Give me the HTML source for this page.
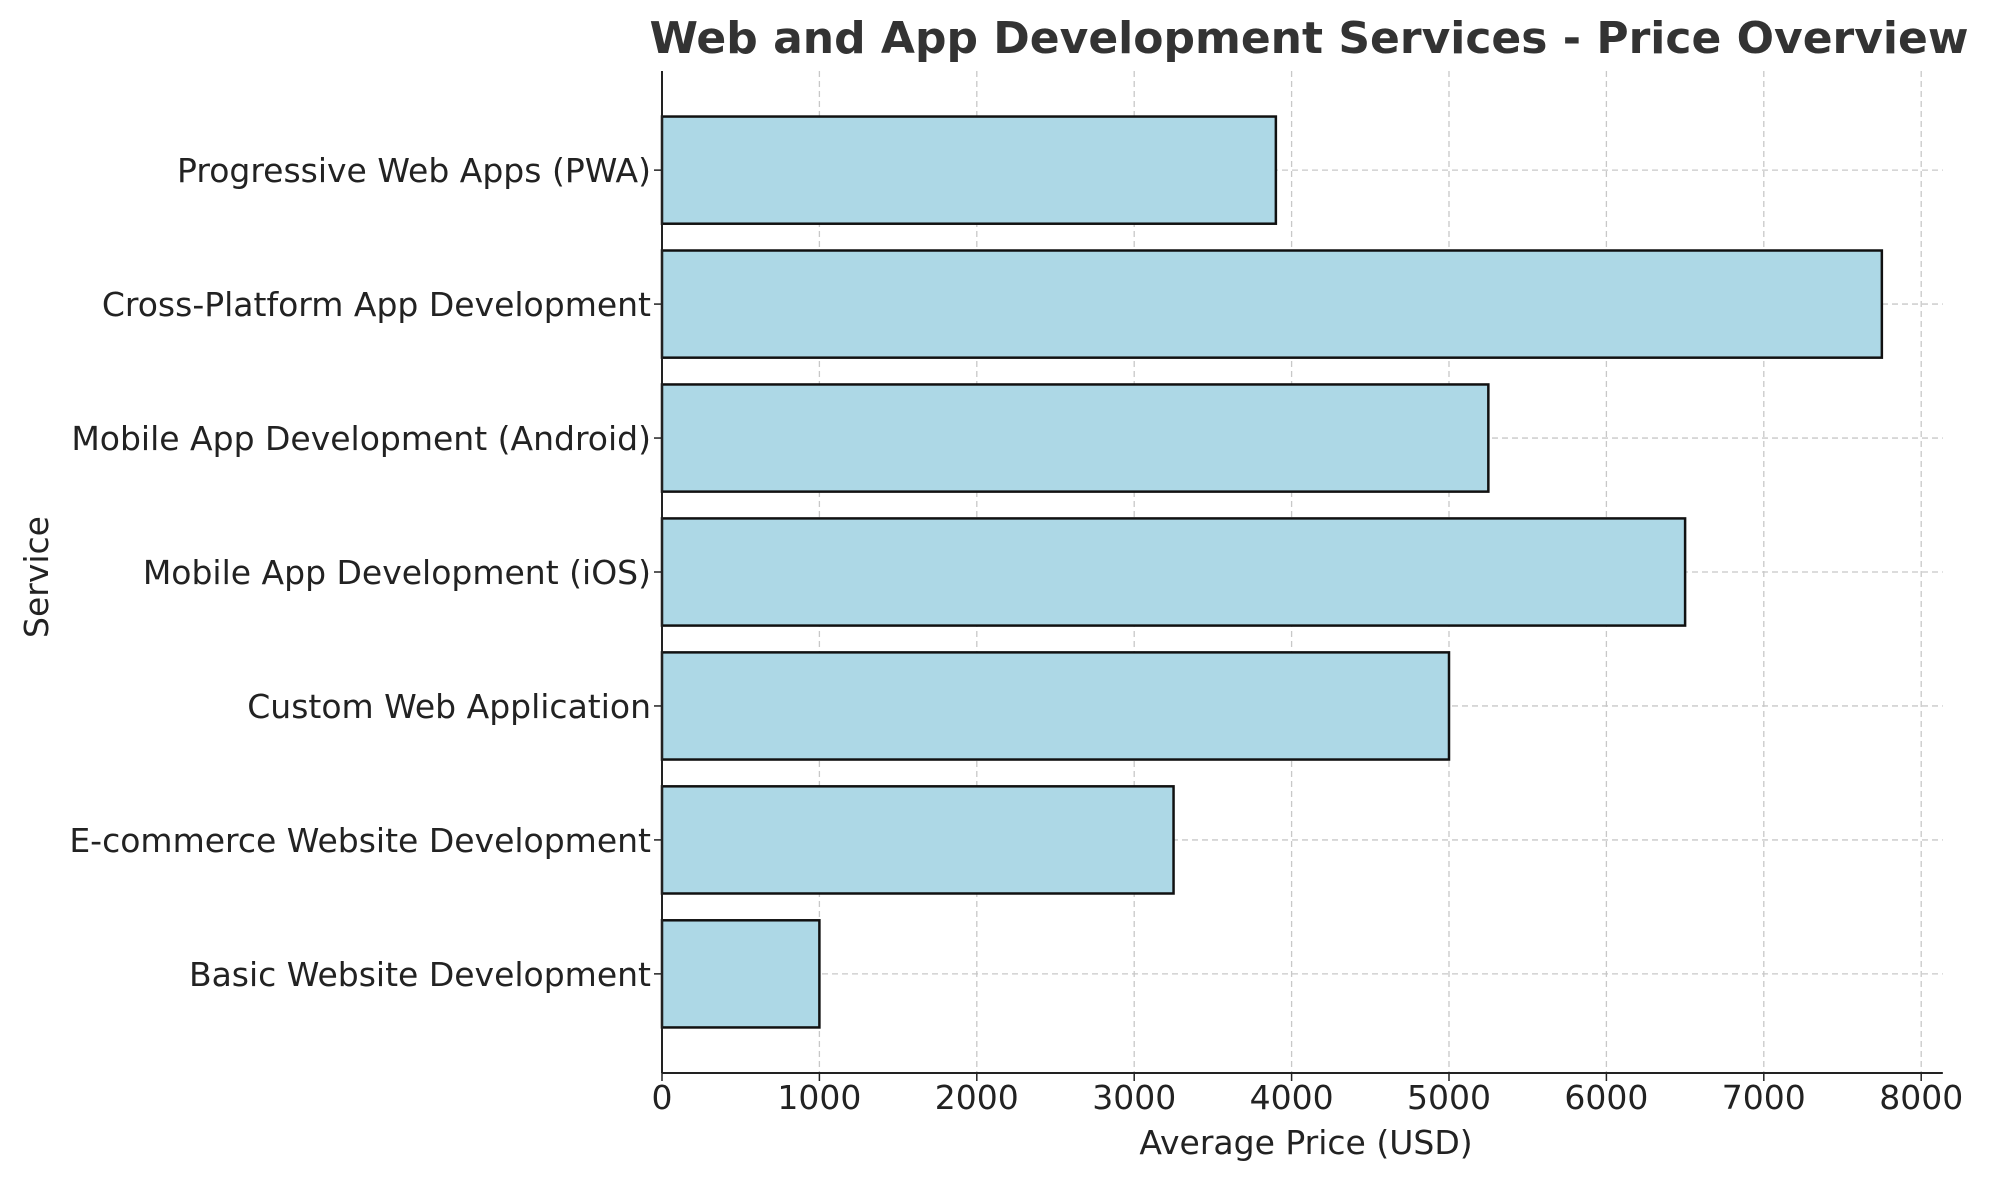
<!DOCTYPE html>
<html><head><meta charset="utf-8"><style>
body{margin:0;background:#fff}
svg{display:block;font-family:"DejaVu Sans","Liberation Sans",sans-serif}
</style></head><body>
<svg id="chart" width="1990" height="1180" viewBox="0 0 1990 1180">
<g id="grid"></g>
<g id="bars"></g>
<g id="axes"></g>
<text x="1309" y="53" text-anchor="middle" font-size="44" font-weight="bold" fill="#333">Web and App Development Services - Price Overview</text>
<text x="1306" y="1154" text-anchor="middle" font-size="33" fill="#222">Average Price (USD)</text>
<text transform="translate(48,577) rotate(-90)" text-anchor="middle" font-size="33" fill="#222">Service</text>
</svg>
<script>
const categories = ["Basic Website Development","E-commerce Website Development","Custom Web Application","Mobile App Development (iOS)","Mobile App Development (Android)","Cross-Platform App Development","Progressive Web Apps (PWA)"];
const prices = [1000,3250,5000,6500,5250,7750,3900];
const xTicks = [0,1000,2000,3000,4000,5000,6000,7000,8000];

const NS="http://www.w3.org/2000/svg";
const L=662,T=71,B=1073;
const xmax=Math.max(...prices)*1.05;
const R=L+8137.5*0.1574;
const x=v=>L+v/xmax*(R-L);
const n=categories.length;
const ylo=-0.4-0.05*(n-0.2), yhi=n-1+0.4+0.05*(n-0.2);
const y=i=>B-(i-ylo)/(yhi-ylo)*(B-T);
const bw=0.8*(B-T)/(yhi-ylo);
function mk(tag,a,p){const e=document.createElementNS(NS,tag);for(const k in a)e.setAttribute(k,a[k]);p.appendChild(e);return e;}
const grid=document.getElementById('grid'),bars=document.getElementById('bars'),axes=document.getElementById('axes');
xTicks.forEach(t=>{
  const g=mk('line',{x1:x(t),x2:x(t),y1:T,y2:B,stroke:'#c8c8c8','stroke-width':1.3,'stroke-dasharray':'6,4'},grid);
  
  
  const tk=mk('line',{x1:x(t),x2:x(t),y1:B,y2:B+8,stroke:'#222','stroke-width':1.5},axes);
  
  
  const tl=mk('text',{x:x(t),y:B+36,'text-anchor':'middle','font-size':33,fill:'#222'},axes);
  tl.textContent=t;
  
  
});
categories.forEach((c,i)=>{
  const g=mk('line',{x1:L,x2:R,y1:y(i),y2:y(i),stroke:'#c8c8c8','stroke-width':1.3,'stroke-dasharray':'6,4'},grid);
  
  
  const b=mk('rect',{x:L,y:y(i)-bw/2,width:x(prices[i])-L,height:bw,fill:'#add8e6',stroke:'#111','stroke-width':2.5},bars);
  
  
  const tk=mk('line',{x1:L-8,x2:L,y1:y(i),y2:y(i),stroke:'#222','stroke-width':1.5},axes);
  
  
  const tl=mk('text',{x:L-11,y:y(i)+12,'text-anchor':'end','font-size':33,fill:'#222'},axes);
  tl.textContent=c;
  
  
});
const sl=mk('line',{x1:L,x2:L,y1:T,y2:B,stroke:'#222','stroke-width':2},axes);


const sb=mk('line',{x1:L,x2:R,y1:B,y2:B,stroke:'#222','stroke-width':2},axes);


</script>
</body></html>
